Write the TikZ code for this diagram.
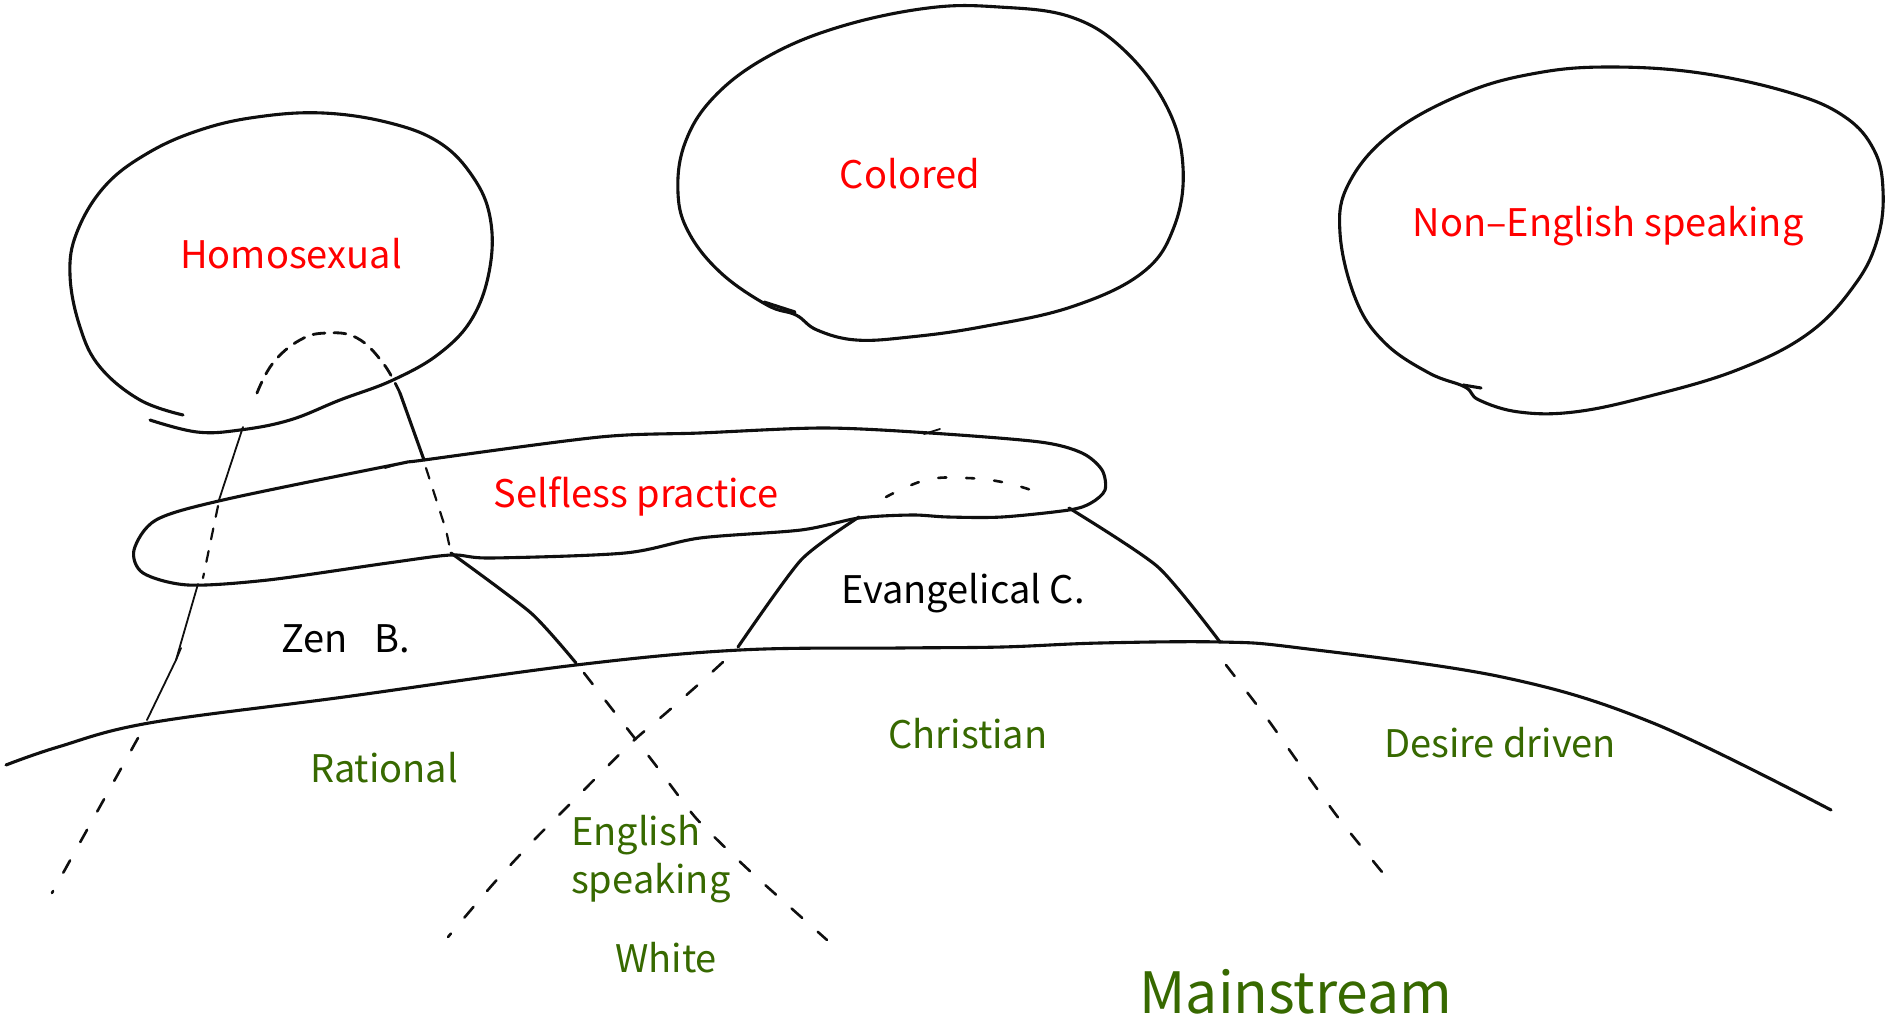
\documentclass[tikz,border=0pt]{standalone}
\usepackage{fontspec}
\setmainfont{Noto Sans CJK JP}
\definecolor{lblred}{RGB}{255,0,0}
\definecolor{lblgreen}{RGB}{55,105,0}
\definecolor{ink}{RGB}{15,15,15}
\begin{document}
\begin{tikzpicture}[x=1pt,y=-1pt,
  sketch/.style={line width=3.1pt, line cap=round, line join=round, ink},
  thinsketch/.style={line width=1.8pt, line cap=round, line join=round, ink},
  lowdash/.style={line width=2.6pt, line cap=round, ink, dash pattern=on 14pt off 21pt},
  archdash/.style={line width=2.8pt, line cap=round, ink, dash pattern=on 12pt off 9pt},
  sparsedash/.style={line width=2.6pt, line cap=round, ink, dash pattern=on 8pt off 20pt},
  innerdash/.style={line width=2.2pt, line cap=round, ink, dash pattern=on 11pt off 12pt},
  lbl/.style={inner sep=0pt, anchor=base, font=\fontsize{38}{44}\selectfont},
  redlbl/.style={lbl, text=lblred},
  greenlbl/.style={lbl, text=lblgreen},
  blacklbl/.style={lbl, text=black}]
\useasboundingbox (0,0) rectangle (1888,1025);
\fill[white] (0,0) rectangle (1888,1025);

% ---- top circles ----
\draw[sketch] plot[smooth, tension=0.65] coordinates {(150,420) (197,432) (240,430) (290,420) (340,400) (393,380) (440,353) (473,317) (490,267) (490,217) (473,177) (440,143) (390,123) (323,113) (257,117) (200,130) (148,153) (105,186) (77,232) (70,275) (80,327) (100,367) (140,400) (183,415)};

\draw[sketch] plot[smooth cycle, tension=0.65] coordinates {(678,193) (685,143) (714,97) (767,57) (839,27) (928,8) (999,7) (1071,17) (1124,50) (1167,107) (1183,167) (1174,227) (1142,273) (1071,307) (981,327) (910,337) (856,340) (817,330) (796,315) (767,305) (721,273) (689,233)};
\draw[sketch] (764,302) -- (795,312);

\draw[sketch] plot[smooth cycle, tension=0.65] coordinates {(1340,233) (1349,183) (1392,133) (1465,93) (1537,73) (1610,67) (1700,73) (1791,93) (1845,117) (1874,150) (1883,190) (1878,237) (1856,283) (1809,333) (1737,370) (1646,397) (1574,412) (1519,412) (1479,400) (1465,387) (1429,373) (1385,343) (1356,300)};
\draw[sketch] (1463,385) -- (1481,388);

% ---- selfless practice loop ----
\draw[sketch] plot[smooth cycle, tension=0.5] coordinates {(134,550) (156,520) (223,500) (393,465) (424,460) (600,437) (700,433) (823,428) (930,433) (1040,442) (1082,453) (1102,470) (1105,490) (1091,503) (1069,510) (1002,517) (948,517) (912,515) (859,518) (801,530) (700,538) (625,553) (491,558) (451,555) (388,563) (268,580) (188,585) (143,573)};
\draw[thinsketch] (924,434) -- (940,429);
\draw[thinsketch] (385,468) -- (402,463);

% ---- mainstream curve ----
\draw[sketch] plot[smooth, tension=0.6] coordinates {(6,765) (58,747) (149,723) (344,697) (576,665) (740,650) (900,648) (1002,647) (1100,643) (1221,642) (1300,648) (1502,677) (1653,723) (1831,810)};

% ---- named junctions ----
\coordinate (archL) at (257,393);
\coordinate (archR) at (400,393);
\coordinate (loopTopZ) at (424,460);
\coordinate (loopBotZ) at (451,553);
\coordinate (mainZ) at (576,663);
\coordinate (mainEL) at (738,647);
\coordinate (loopEL) at (859,517);
\coordinate (loopER) at (1069,508);
\coordinate (mainER) at (1220,642);
\coordinate (homoBot) at (243,427);
\coordinate (loopTopL) at (219,500);
\coordinate (loopBotL) at (198,584);
\coordinate (mainL) at (147,720);

% ---- Zen B. ----
\draw[archdash] plot[smooth, tension=0.7] coordinates {(archL) (273,363) (300,340) (327,333) (357,338) (383,363) (archR)};
\draw[sketch] (archR) -- (loopTopZ);
\draw[innerdash] (426,468) -- (446,530) -- (loopBotZ);
\draw[sketch] plot[smooth, tension=0.4] coordinates {(loopBotZ) (531,613) (mainZ)};
\draw[thinsketch] (homoBot) -- (loopTopL);
\draw[innerdash] (218,506) -- (203,578);
\draw[thinsketch] (loopBotL) -- (176,660) -- (mainL);
\draw[thinsketch] (176,660) -- (181,648);

% ---- Evangelical C. ----
\draw[sketch] plot[smooth, tension=0.4] coordinates {(loopEL) (801,560) (mainEL)};
\draw[sketch] plot[smooth, tension=0.4] coordinates {(loopER) (1158,567) (mainER)};
\draw[sparsedash] plot[smooth, tension=0.7] coordinates {(886,497) (926,480) (966,478) (1002,482) (1031,490)};

% ---- dashed lines below the mainstream curve ----
\draw[lowdash] (138,738) -- (52,893);
\draw[lowdash] plot[smooth, tension=0.4] coordinates {(584,673) (626,727) (654,763) (695,817) (735,857) (763,883) (827,940)};
\draw[lowdash] plot[smooth, tension=0.4] coordinates {(723,662) (700,683) (666,713) (631,743) (574,800) (534,840) (494,883) (448,937)};
\draw[lowdash] plot[smooth, tension=0.4] coordinates {(1226,665) (1266,717) (1300,765) (1340,820) (1391,883)};

% ---- labels ----
\node[redlbl] (homo) at (291,268) {Homosexual};
\node[redlbl] (colored) at (910,188) {Colored};
\node[redlbl] (nonenglish) at (1608,236) {Non–English speaking};
\node[redlbl] (selfless) at (636,507) {Selfless practice};
\node[blacklbl] (zen) at (346,652) {Zen\hspace{0.7em}B.};
\node[blacklbl] (evang) at (963,603) {Evangelical C.};
\node[greenlbl] (rational) at (384,782) {Rational};
\node[greenlbl] (christian) at (968,748) {Christian};
\node[greenlbl] (desire) at (1500,757) {Desire driven};
\node[greenlbl, anchor=base west] (english) at (571,845) {English};
\node[greenlbl, anchor=base west] (speaking) at (571,893) {speaking};
\node[greenlbl] (white) at (666,972) {White};
\node[greenlbl, font=\fontsize{57}{64}\selectfont] (main) at (1296,1013) {Mainstream};
\end{tikzpicture}
\end{document}
